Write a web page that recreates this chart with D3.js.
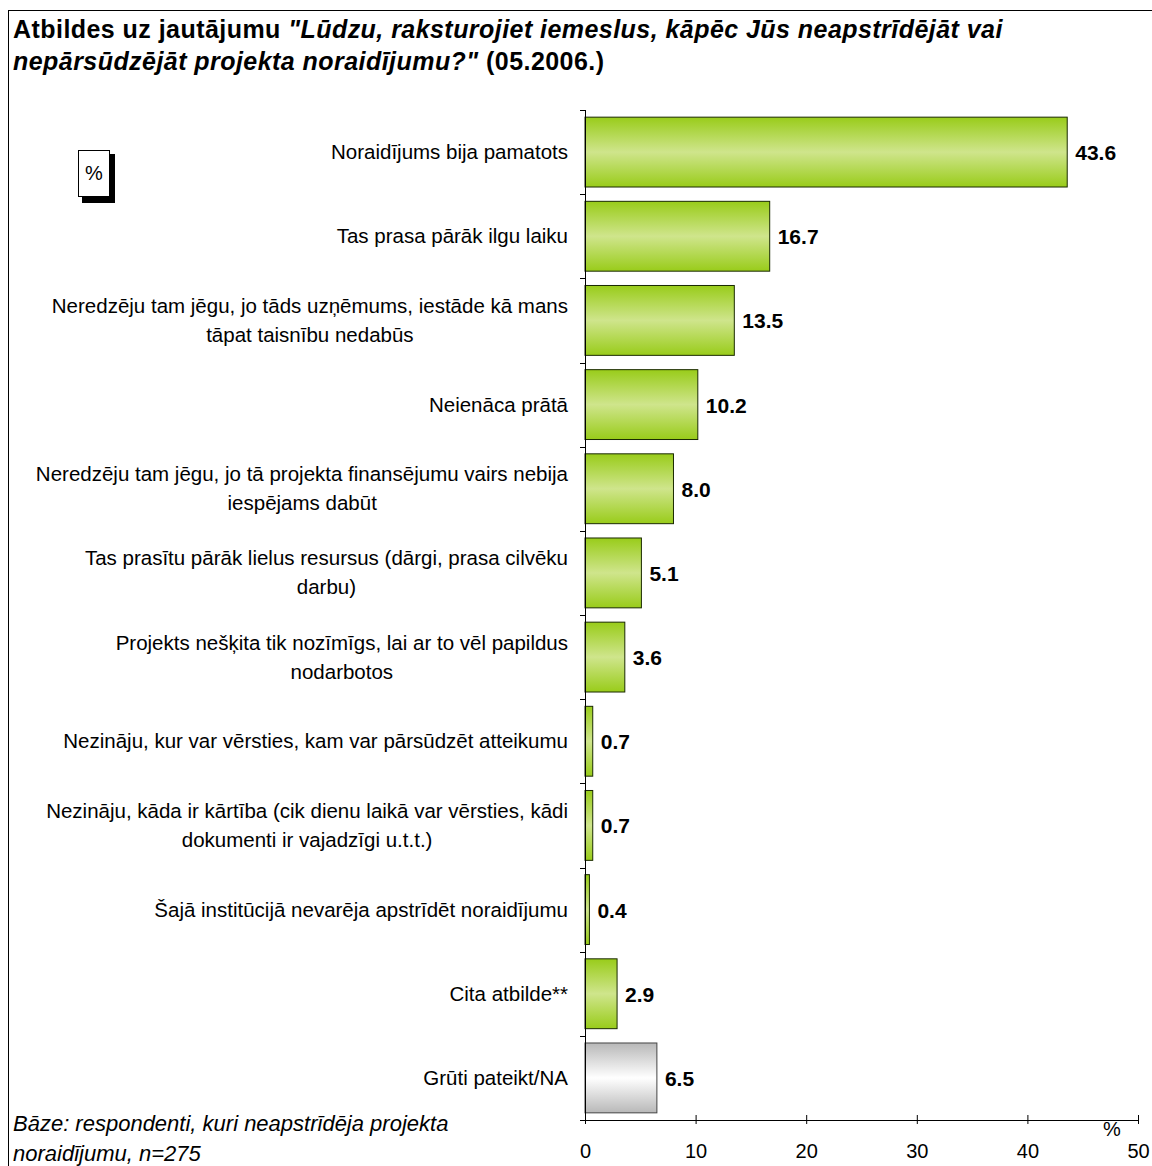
<!DOCTYPE html>
<html>
<head>
<meta charset="utf-8">
<script src="https://cdn.jsdelivr.net/npm/d3@7"></script>
<style>
  body { margin: 0; background: #fff; }
  text { font-family: "Liberation Sans", Arial, sans-serif; }
</style>
</head>
<body>
<script>
// categories (each entry = lines of the label)
var categories = [
  ["Noraidījums bija pamatots"],
  ["Tas prasa pārāk ilgu laiku"],
  ["Neredzēju tam jēgu, jo tāds uzņēmums, iestāde kā mans", "tāpat taisnību nedabūs"],
  ["Neienāca prātā"],
  ["Neredzēju tam jēgu, jo tā projekta finansējumu vairs nebija", "iespējams dabūt"],
  ["Tas prasītu pārāk lielus resursus (dārgi, prasa cilvēku", "darbu)"],
  ["Projekts nešķita tik nozīmīgs, lai ar to vēl papildus", "nodarbotos"],
  ["Nezināju, kur var vērsties, kam var pārsūdzēt atteikumu"],
  ["Nezināju, kāda ir kārtība (cik dienu laikā var vērsties, kādi", "dokumenti ir vajadzīgi u.t.t.)"],
  ["Šajā institūcijā nevarēja apstrīdēt noraidījumu"],
  ["Cita atbilde**"],
  ["Grūti pateikt/NA"]
];
var values = [43.6, 16.7, 13.5, 10.2, 8.0, 5.1, 3.6, 0.7, 0.7, 0.4, 2.9, 6.5];
var isGray = [false, false, false, false, false, false, false, false, false, false, false, true];
var xTicks = [0, 10, 20, 30, 40, 50];

var W = 1152, H = 1166;
var svg = d3.select("body").append("svg")
    .attr("width", W).attr("height", H);

var defs = svg.append("defs");
function grad(id, edge, mid) {
  var g = defs.append("linearGradient").attr("id", id)
      .attr("x1", 0).attr("y1", 0).attr("x2", 0).attr("y2", 1);
  g.append("stop").attr("offset", "0%").attr("stop-color", edge);
  g.append("stop").attr("offset", "50%").attr("stop-color", mid);
  g.append("stop").attr("offset", "100%").attr("stop-color", edge);
}
grad("gGreen", "#99cc1a", "#cfe58c");
grad("gGray", "#b8b8b8", "#ffffff");

// frame
svg.append("rect").attr("x", 8.5).attr("y", 10.5).attr("width", 1160).attr("height", 1170)
    .attr("fill", "none").attr("stroke", "#000").attr("stroke-width", 1);

// title
var title = svg.append("text").attr("x", 13).attr("y", 38)
    .style("font-size", "25px").style("font-weight", "bold").style("letter-spacing", "0.45px");
title.append("tspan").text("Atbildes uz jautājumu ");
title.append("tspan").style("font-style", "italic").text("\"Lūdzu, raksturojiet iemeslus, kāpēc Jūs neapstrīdējāt vai");
var title2 = svg.append("text").attr("x", 13).attr("y", 70)
    .style("font-size", "25px").style("font-weight", "bold").style("letter-spacing", "0.45px");
title2.append("tspan").style("font-style", "italic").text("nepārsūdzējāt projekta noraidījumu?\"");
title2.append("tspan").text("  (05.2006.)");

// % box
svg.append("rect").attr("x", 82).attr("y", 154).attr("width", 33).attr("height", 49).attr("fill", "#000");
svg.append("rect").attr("x", 78.5).attr("y", 150.5).attr("width", 31).attr("height", 46)
    .attr("fill", "#fff").attr("stroke", "#000");
svg.append("text").attr("x", 94).attr("y", 180).attr("text-anchor", "middle")
    .style("font-size", "20px").text("%");

var x = d3.scaleLinear().domain([0, 50]).range([585, 1138]);
var y = d3.scaleBand().domain(d3.range(categories.length)).range([110, 1120]).paddingInner(0.17).paddingOuter(0.085);

// bars
svg.selectAll(".bar").data(values).enter().append("rect")
    .attr("class", "bar")
    .attr("x", x(0))
    .attr("y", function(d, i) { return y(i); })
    .attr("width", function(d) { return x(d) - x(0); })
    .attr("height", y.bandwidth())
    .attr("fill", function(d, i) { return isGray[i] ? "url(#gGray)" : "url(#gGreen)"; })
    .attr("stroke", function(d, i) { return isGray[i] ? "#444" : "#1a2a00"; })
    .attr("stroke-width", 1);

// value labels
svg.selectAll(".val").data(values).enter().append("text")
    .attr("x", function(d) { return x(d) + 8; })
    .attr("y", function(d, i) { return y(i) + y.bandwidth() / 2 + 8; })
    .style("font-size", "21px").style("font-weight", "bold")
    .text(function(d) { return d.toFixed(1); });

// category labels: first line right-aligned, next lines centred under it
var labelRight = 568, lineGap = 29;
categories.forEach(function(lines, i) {
  var cy = y(i) + y.bandwidth() / 2 + 7;
  var top = cy - (lines.length - 1) * lineGap / 2;
  var first = svg.append("text").attr("x", labelRight).attr("y", top)
      .attr("text-anchor", "end").style("font-size", "20.5px").text(lines[0]);
  var bb = first.node().getBBox();
  lines.slice(1).forEach(function(l, j) {
    svg.append("text").attr("x", bb.x + bb.width / 2).attr("y", top + (j + 1) * lineGap)
        .attr("text-anchor", "middle").style("font-size", "20.5px").text(l);
  });
});

// left axis line with ticks between categories
var yTicks = d3.range(categories.length + 1).map(function(i) { return 110 + i * (1010 / categories.length); });
svg.append("line").attr("x1", x(0) + 0.5).attr("x2", x(0) + 0.5).attr("y1", 110).attr("y2", 1120)
    .attr("stroke", "#000");
svg.selectAll(".ytick").data(yTicks).enter().append("line")
    .attr("x1", x(0) - 5).attr("x2", x(0))
    .attr("y1", function(d) { return Math.round(d) + 0.5; })
    .attr("y2", function(d) { return Math.round(d) + 0.5; })
    .attr("stroke", "#000");

// bottom axis
var xAxis = d3.axisBottom(x).tickValues(xTicks).tickSize(5).tickSizeOuter(0).tickPadding(19);
var gx = svg.append("g").attr("transform", "translate(0,1120)").call(xAxis);
gx.select(".domain").attr("stroke", "#000");
gx.selectAll(".tick line").attr("stroke", "#000").attr("y1", -5).attr("y2", 4);
gx.selectAll(".tick text").style("font-size", "20px").attr("fill", "#000")
    .style("font-family", "Liberation Sans, Arial, sans-serif");
svg.append("text").attr("x", 1112).attr("y", 1136).attr("text-anchor", "middle")
    .style("font-size", "20px").text("%");

// footnote
svg.append("text").attr("x", 13).attr("y", 1131).style("font-size", "22px").style("font-style", "italic")
    .text("Bāze: respondenti, kuri neapstrīdēja projekta");
svg.append("text").attr("x", 13).attr("y", 1161).style("font-size", "22px").style("font-style", "italic")
    .text("noraidījumu, n=275");
</script>
</body>
</html>
